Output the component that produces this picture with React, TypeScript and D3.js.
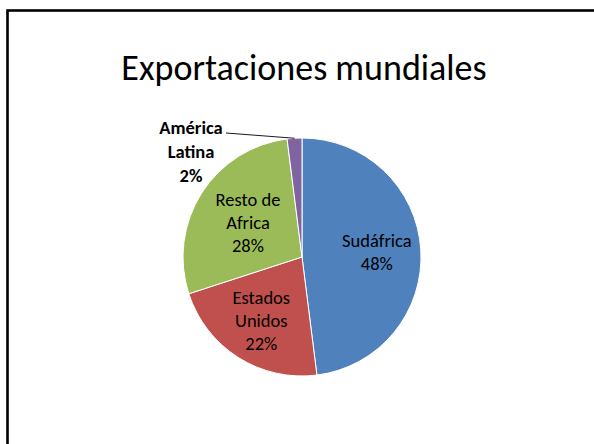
import { useEffect, useRef } from "react";
import * as d3 from "d3";

const categories = ["Sudáfrica", "Estados Unidos", "Resto de Africa", "América Latina"];
const values = [48, 22, 28, 2];
const labelLines = [
  ["Sudáfrica", "48%"],
  ["Estados", "Unidos", "22%"],
  ["Resto de", "Africa", "28%"],
  ["América", "Latina", "2%"],
];
const TITLE = "Exportaciones mundiales";

const COLORS = ["#4F81BD", "#C0504D", "#9BBB59", "#8064A2"];
const FONT = "Carlito, Calibri, Lato, sans-serif";

export default function App() {
  const ref = useRef<SVGSVGElement>(null);

  useEffect(() => {
    if (!ref.current) return;
    const svg = d3.select(ref.current);
    svg.selectAll("*").remove();

    const W = 594;
    const H = 444;
    const cx = 302;
    const cy = 257;
    const r = 119;

    // frame (runs off the right and bottom)
    svg
      .append("rect")
      .attr("x", 7.5)
      .attr("y", 10.5)
      .attr("width", W + 20)
      .attr("height", H + 20)
      .attr("fill", "#fff")
      .attr("stroke", "#000")
      .attr("stroke-width", 2.6);

    svg
      .append("text")
      .attr("x", 304)
      .attr("y", 80)
      .attr("text-anchor", "middle")
      .attr("font-family", FONT)
      .attr("font-size", 36)
      .attr("fill", "#000")
      .text(TITLE);

    const rows = categories.map((c, i) => ({ name: c, value: values[i], i }));
    const pie = d3
      .pie<(typeof rows)[number]>()
      .sort(null)
      .value((d) => d.value)
      .startAngle(0)
      .endAngle(2 * Math.PI);
    const arcs = pie(rows);

    const arc = d3.arc<d3.PieArcDatum<(typeof rows)[number]>>().innerRadius(0).outerRadius(r);

    const g = svg.append("g").attr("transform", `translate(${cx},${cy})`);

    g.selectAll("path")
      .data(arcs)
      .join("path")
      .attr("d", arc)
      .attr("fill", (d) => COLORS[d.data.i])
      .attr("stroke", "#fff")
      .attr("stroke-width", 1);

    // inside labels
    const labelRadius = [75, 76, 64];
    const lineH = 23;
    arcs.slice(0, 3).forEach((d, k) => {
      const la = d3.arc<any>().innerRadius(labelRadius[k]).outerRadius(labelRadius[k]);
      const [lx, ly] = la.centroid(d);
      const lines = labelLines[d.data.i];
      const t = g
        .append("text")
        .attr("text-anchor", "middle")
        .attr("font-family", FONT)
        .attr("font-size", 18.5)
        .attr("fill", "#000");
      lines.forEach((s, j) => {
        t.append("tspan")
          .attr("x", lx)
          .attr("y", ly + (j - (lines.length - 1) / 2) * lineH + 6)
          .text(s);
      });
    });

    // outside label with leader line
    const small = arcs[3];
    const mid = (small.startAngle + small.endAngle) / 2;
    const edge: [number, number] = [Math.sin(mid) * r, -Math.cos(mid) * r];
    const textX = -111;
    const textY = -123;
    g.append("line")
      .attr("x1", textX + 35)
      .attr("y1", textY - 1)
      .attr("x2", edge[0])
      .attr("y2", edge[1])
      .attr("stroke", "#000")
      .attr("stroke-width", 0.9);
    const t2 = g
      .append("text")
      .attr("text-anchor", "middle")
      .attr("font-family", FONT)
      .attr("font-size", 18.5)
      .attr("font-weight", "bold")
      .attr("fill", "#000");
    labelLines[3].forEach((s, j) => {
      t2.append("tspan")
        .attr("x", textX)
        .attr("y", textY + j * 24)
        .text(s);
    });
  }, []);

  return (
    <svg
      ref={ref}
      width={594}
      height={444}
      style={{ position: "absolute", left: 0, top: 0, background: "#fff" }}
    />
  );
}
